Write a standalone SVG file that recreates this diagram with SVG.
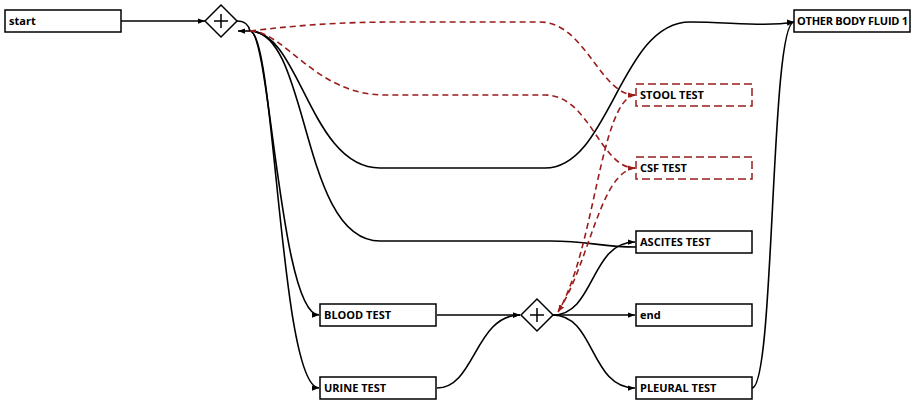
<svg xmlns="http://www.w3.org/2000/svg" width="912" height="400" viewBox="0 0 912 400">
<style>
.box{fill:#fff;stroke:#000;stroke-width:1.5}
.dbox{fill:#fff;stroke:#9b1c1c;stroke-width:1.5;stroke-dasharray:8,4}
.lbl{font-family:"Open Sans","Liberation Sans",sans-serif;font-weight:700;font-size:11px;fill:#000}
.gw{fill:#fff;stroke:#000;stroke-width:1.5}
.plus{stroke:#000;stroke-width:1.5;fill:none}
.e{fill:none;stroke:#000;stroke-width:1.6}
.d{fill:none;stroke:#9b1c1c;stroke-width:1.6;stroke-dasharray:6,4}
</style>
<defs>
<marker id="a" viewBox="0 0 8 6" refX="8" refY="3" markerWidth="7" markerHeight="6" markerUnits="userSpaceOnUse" orient="auto"><path d="M0,0 L8,3 L0,6 z" fill="#000"/></marker>
<marker id="r" viewBox="0 0 8 6" refX="8" refY="3" markerWidth="7" markerHeight="6" markerUnits="userSpaceOnUse" orient="auto"><path d="M0,0 L8,3 L0,6 z" fill="#9b1c1c"/></marker>
</defs>
<g id="connectors">
<path class="e" d="M121,21 L205,21" marker-end="url(#a)"/>
<path class="e" d="M237,21 C245,21 249,26 250,31"/>
<path class="e" d="M250,31 L238,31" marker-end="url(#a)"/>
<path class="e" d="M250,31 C300,31 310,168 380,168 L545,168 C610,168 620,22 690,22 C730,22 765,27 794,22" marker-end="url(#a)"/>
<path class="e" d="M250,31 C310,31 300,241 380,241 L550,241 C590,241 600,247 636,247"/>
<path class="e" d="M250,31 C270,31 280,315 319,315" marker-end="url(#a)"/>
<path class="e" d="M250,31 C275,31 280,388 319,388" marker-end="url(#a)"/>
<path class="d" d="M250,31 C300,25 340,22 400,22 L540,22 C585,22 600,95 635,95" marker-end="url(#r)"/>
<path class="d" d="M250,31 C285,31 315,95 385,95 L545,95 C590,95 600,168 635,168" marker-end="url(#r)"/>
<path class="d" d="M635,95 C600,100 595,250 558,312" marker-end="url(#r)"/>
<path class="d" d="M635,168 C600,172 590,262 558,312" marker-end="url(#r)"/>
<path class="e" d="M437,315 L520,315" marker-end="url(#a)"/>
<path class="e" d="M437,388 C475,388 475,315 520,315" marker-end="url(#a)"/>
<path class="e" d="M553,315 L635,315" marker-end="url(#a)"/>
<path class="e" d="M553,315 C595,315 590,242 635,242" marker-end="url(#a)"/>
<path class="e" d="M553,315 C595,315 590,388 635,388" marker-end="url(#a)"/>
<path class="e" d="M752,388 C775,388 770,22 794,22" marker-end="url(#a)"/>
</g>
<g id="start"><rect class="box" x="5" y="10" width="116" height="22"/><text class="lbl" x="9" y="25">start</text></g>
<g id="gateway1"><polygon class="gw" points="205,21 221,5 237,21 221,37"/><path class="plus" d="M214,21 H228 M221,14 V28"/></g>
<g id="other"><rect class="box" x="794" y="10" width="116" height="22"/><text class="lbl" x="797" y="25" letter-spacing="-0.25">OTHER BODY FLUID 1</text></g>
<g id="stool"><rect class="dbox" x="636" y="84" width="116" height="22"/><text class="lbl" x="640" y="99">STOOL TEST</text></g>
<g id="csf"><rect class="dbox" x="636" y="157" width="116" height="22"/><text class="lbl" x="640" y="172">CSF TEST</text></g>
<g id="ascites"><rect class="box" x="636" y="231" width="116" height="22"/><text class="lbl" x="640" y="246">ASCITES TEST</text></g>
<g id="end"><rect class="box" x="636" y="304" width="116" height="22"/><text class="lbl" x="640" y="319">end</text></g>
<g id="pleural"><rect class="box" x="636" y="377" width="116" height="22"/><text class="lbl" x="640" y="392">PLEURAL TEST</text></g>
<g id="blood"><rect class="box" x="320" y="304" width="116" height="22"/><text class="lbl" x="324" y="319">BLOOD TEST</text></g>
<g id="urine"><rect class="box" x="320" y="377" width="116" height="22"/><text class="lbl" x="324" y="392">URINE TEST</text></g>
<g id="gateway2"><polygon class="gw" points="521,315 537,299 553,315 537,331"/><path class="plus" d="M530,315 H544 M537,308 V322"/></g>
</svg>
